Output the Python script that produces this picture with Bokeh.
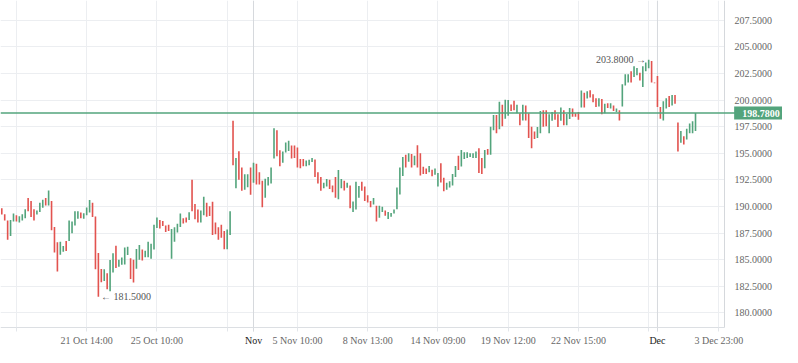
import numpy as np
from bokeh.plotting import figure
from bokeh.models import (FixedTicker, Span, Label, ColumnDataSource, PrintfTickFormatter,
                          Range1d, LinearAxis, BoxAnnotation)
from bokeh.embed import file_html
from bokeh.resources import INLINE
from bokeh.core.properties import value

opens = [
    189.83, 189.27, 188.67, 187.23, 188.58, 189.18, 188.49, 188.67, 188.88, 190.79,
    190.52, 189.74, 189.24, 189.47, 189.87, 190.79, 190.1, 190.52, 188.07, 186.64,
    185.47, 185.74, 186.76, 186.76, 187.47, 188.22, 188.85, 189.42, 188.85, 189.18,
    189.42, 190.34, 189.06, 185.62, 184.11, 182.99, 183.71, 182.03, 183.8, 186.31,
    184.33, 184.51, 184.54, 185.44, 185.14, 184.99, 184.15, 184.99, 185.95, 185.23,
    185.23, 185.08, 185.95, 187.98, 188.73, 188.64, 188.22, 188.28, 185.08, 186.67,
    187.56, 188.07, 188.88, 188.97, 188.73, 192.5, 190.23, 189.72, 188.49, 189.18,
    190.34, 190.01, 190.43, 188.49, 188.04, 188.28, 187.68, 185.98, 187.32, 198.06,
    191.72, 195.19, 193.66, 191.57, 191.81, 193.66, 192.23, 194.02, 193.21, 192.41,
    190.82, 191.96, 192.16, 194.5, 197.16, 195.28, 194.11, 195.07, 195.21, 195.73,
    195.73, 195.55, 194.47, 194.47, 193.78, 193.87, 194.17, 194.41, 193.21, 192.77,
    191.72, 191.87, 192.52, 191.96, 192.77, 190.68, 191.72, 192.41, 191.75, 191.96,
    189.47, 189.72, 190.82, 192.32, 191.87, 191.06, 190.52, 190.19, 190.07, 188.94,
    189.47, 189.63, 188.82, 189.02, 189.33, 189.74, 191.12, 192.86, 194.86, 194.2,
    194.92, 193.87, 195.75, 195.01, 193.73, 193.57, 193.21, 193.46, 192.97, 191.87,
    194.05, 192.7, 191.57, 191.78, 191.96, 192.77, 194.77, 193.75, 194.47, 194.56,
    194.65, 194.56, 194.56, 195.46, 194.56, 193.6, 195.39, 194.86, 197.16, 198.6,
    197.25, 199.56, 198.24, 198.53, 199.58, 199.94, 198.75, 198.75, 198.08, 199.49,
    198.75, 197.49, 197.04, 196.44, 196.89, 199.04, 199.04, 196.89, 198.06, 199.04,
    198.66, 198.06, 199.04, 197.64, 198.21, 199.2, 198.75, 198.89, 199.29, 200.69,
    200.15, 200.93, 200.54, 200.18, 199.4, 200.09, 198.75, 199.7, 199.2, 199.49,
    198.89, 199.04, 199.4, 201.38, 201.65, 202.72, 202.18, 202.34, 202.57, 201.22,
    202.7, 202.99, 203.68, 201.65, 202.27, 199.34, 198.08, 199.2, 200.39, 199.49,
    200.48, 197.88, 195.99, 196.6, 196.29, 196.89, 196.89, 197.1,
]
closes = [
    189.24, 188.67, 186.87, 188.73, 189.33, 188.58, 189.09, 189.27, 189.74, 189.56,
    189.0, 188.67, 189.63, 190.34, 190.64, 190.1, 191.51, 187.77, 185.68, 183.89,
    186.67, 186.28, 185.8, 188.67, 188.58, 189.54, 189.54, 188.88, 189.36, 189.9,
    190.61, 189.0, 184.09, 181.5, 182.87, 184.09, 182.21, 184.96, 185.59, 184.22,
    184.99, 185.2, 186.15, 186.22, 183.19, 182.84, 186.01, 186.37, 184.93, 185.83,
    186.67, 186.49, 188.28, 188.97, 187.92, 188.16, 187.59, 187.68, 187.89, 188.04,
    188.37, 189.33, 188.4, 188.49, 189.45, 189.56, 188.79, 188.5, 189.63, 190.91,
    189.02, 189.11, 187.32, 187.38, 186.87, 187.05, 185.98, 187.83, 189.54, 193.87,
    194.56, 192.52, 191.48, 193.03, 193.03, 191.09, 194.11, 192.07, 192.07, 189.92,
    192.61, 192.77, 193.66, 197.34, 194.71, 193.78, 195.16, 196.02, 196.17, 194.5,
    194.56, 193.66, 193.6, 193.78, 194.32, 194.38, 194.56, 192.77, 192.16, 191.48,
    192.23, 192.59, 191.63, 191.33, 190.82, 193.42, 192.59, 191.51, 192.23, 189.83,
    190.46, 192.32, 191.93, 191.48, 190.52, 190.37, 189.92, 190.79, 188.58, 190.07,
    189.96, 189.12, 189.47, 189.38, 189.72, 191.78, 193.66, 194.65, 193.66, 195.01,
    193.66, 194.77, 193.66, 192.92, 193.06, 193.06, 193.81, 192.83, 193.57, 193.15,
    192.25, 191.42, 192.23, 192.38, 193.06, 193.81, 193.42, 195.3, 195.1, 195.1,
    195.01, 195.01, 195.16, 193.15, 193.06, 195.3, 194.86, 197.49, 198.6, 196.89,
    199.85, 197.55, 200.03, 200.0, 198.98, 199.04, 199.56, 197.64, 199.56, 198.08,
    196.44, 195.46, 196.35, 197.46, 198.98, 197.49, 197.55, 198.66, 198.89, 198.15,
    197.46, 199.29, 197.64, 198.69, 199.25, 198.44, 198.44, 198.15, 200.9, 199.29,
    200.84, 200.24, 199.79, 199.34, 200.18, 198.66, 199.65, 199.25, 199.7, 198.98,
    199.2, 198.08, 201.49, 202.43, 202.43, 201.65, 203.17, 203.02, 201.83, 203.17,
    203.53, 203.8, 201.65, 201.58, 199.34, 198.24, 199.88, 200.18, 199.34, 200.48,
    199.65, 195.16, 197.1, 195.82, 197.31, 197.79, 198.0, 198.78,
]

x_ticks = [5, 29, 53, 77, 101, 125, 149, 173, 197, 221, 245]
x_tick_labels = ["", "21 Oct 14:00", "25 Oct 10:00", "", "5 Nov 10:00", "8 Nov 13:00",
                 "14 Nov 09:00", "19 Nov 12:00", "22 Nov 15:00", "", "3 Dec 23:00"]
month_ticks = [86, 224]
month_labels = ["Nov", "Dec"]
y_ticks = [180.0, 182.5, 185.0, 187.5, 190.0, 192.5, 195.0, 197.5, 200.0, 202.5, 205.0, 207.5]
last_price = 198.78

GREEN = "#53a47c"
RED = "#e2534f"
FONT = "Liberation Serif"

o = np.array(opens)
c = np.array(closes)
idx = np.arange(len(o))
top = np.maximum(o, c)
bot = np.minimum(o, c)
colors = [GREEN if cc >= oo else RED for oo, cc in zip(o, c)]
src = ColumnDataSource(dict(x=idx, top=top, bottom=bot, color=colors))

# plotting window (data units); the axes are drawn at fixed positions inside it
X0, XAXIS, X1 = -0.44, 246.9, 266.72
YAXIS, Y1 = 178.62, 209.36
Y0 = 176.74

p = figure(width=782, height=347, output_backend="svg", toolbar_location=None,
           x_range=Range1d(X0, X1), y_range=Range1d(Y0, Y1),
           y_axis_location="right",
           min_border_left=0, min_border_top=0, min_border_right=0, min_border_bottom=0)
p.outline_line_color = None
p.background_fill_color = "white"
p.border_fill_color = "white"

xt = FixedTicker(ticks=x_ticks + month_ticks)
p.xaxis.ticker = xt
over = {t: l for t, l in zip(x_ticks, x_tick_labels)}
for t in month_ticks:
    over[t] = ""
p.xaxis.major_label_overrides = over
p.xaxis.fixed_location = YAXIS
p.xaxis.bounds = (X0, XAXIS)
p.xaxis.axis_line_color = "#dcdfe3"
p.xaxis.major_tick_line_color = "#e3e6ea"
p.xaxis.major_tick_in = 0
p.xaxis.major_tick_out = 4
p.xaxis.minor_tick_line_color = None
p.xaxis.major_label_text_font = FONT
p.xaxis.major_label_text_font_size = "10px"
p.xaxis.major_label_text_color = "#666666"
p.xaxis.major_label_standoff = 3

mt = FixedTicker(ticks=month_ticks)
month_axis = LinearAxis(ticker=mt, fixed_location=YAXIS,
                        major_label_overrides={t: l for t, l in zip(month_ticks, month_labels)},
                        axis_line_color=None, major_tick_line_color="#d6d9dd",
                        major_tick_in=0, major_tick_out=4, minor_tick_line_color=None,
                        major_label_text_font=FONT, major_label_text_font_size="10px",
                        major_label_text_color="#222222", major_label_standoff=3)
p.add_layout(month_axis, "below")

yt = FixedTicker(ticks=y_ticks)
p.yaxis.ticker = yt
p.yaxis.fixed_location = XAXIS
p.yaxis.bounds = (YAXIS, Y1)
p.yaxis.formatter = PrintfTickFormatter(format="%.4f")
p.yaxis.axis_line_color = "#d5d8dc"
p.yaxis.major_tick_in = 0
p.yaxis.major_tick_out = 0
p.yaxis.minor_tick_line_color = None
p.yaxis.major_label_text_font = FONT
p.yaxis.major_label_text_font_size = "10px"
p.yaxis.major_label_text_color = "#666666"
p.yaxis.major_label_standoff = 10

p.xgrid.ticker = xt
p.ygrid.ticker = yt
p.xgrid.grid_line_color = "#eceef1"
p.ygrid.grid_line_color = "#eceef1"

for t in month_ticks:
    p.add_layout(Span(location=t, dimension="height", line_color="#d6d9dd", line_width=1,
                      level="underlay"))

# white masks: grid lines stop at the two axes
p.add_layout(BoxAnnotation(left=XAXIS, fill_color="white", fill_alpha=1.0, line_color=None,
                           level="underlay"))
p.add_layout(BoxAnnotation(top=YAXIS, fill_color="white", fill_alpha=1.0, line_color=None,
                           level="underlay"))

p.vbar(x="x", width=0.55, top="top", bottom="bottom", fill_color="color",
       line_color=None, source=src)

p.add_layout(Span(location=last_price, dimension="width", line_color=GREEN, line_width=1.5))

lo_i = int(np.argmin(bot))
hi_i = int(np.argmax(top))
p.text(x=[lo_i + 0.9], y=[bot[lo_i]], text=[f"\u2190 {bot[lo_i]:.4f}"], text_align="left",
       text_baseline="middle", text_font=value(FONT), text_font_size="10px", text_color="#555555")
p.text(x=[hi_i - 0.9], y=[top[hi_i]], text=[f"{top[hi_i]:.4f} \u2192"], text_align="right",
       text_baseline="middle", text_font=value(FONT), text_font_size="10px", text_color="#555555")

p.add_layout(Label(x=XAXIS + 3.3, y=last_price, text=f"{last_price:.4f}",
                   text_align="left", text_baseline="middle", text_font=FONT,
                   text_font_size="10px", text_font_style="bold", text_color="white",
                   background_fill_color=GREEN, padding=(8, 3)))

open("out.html", "w").write(file_html(p, INLINE))
